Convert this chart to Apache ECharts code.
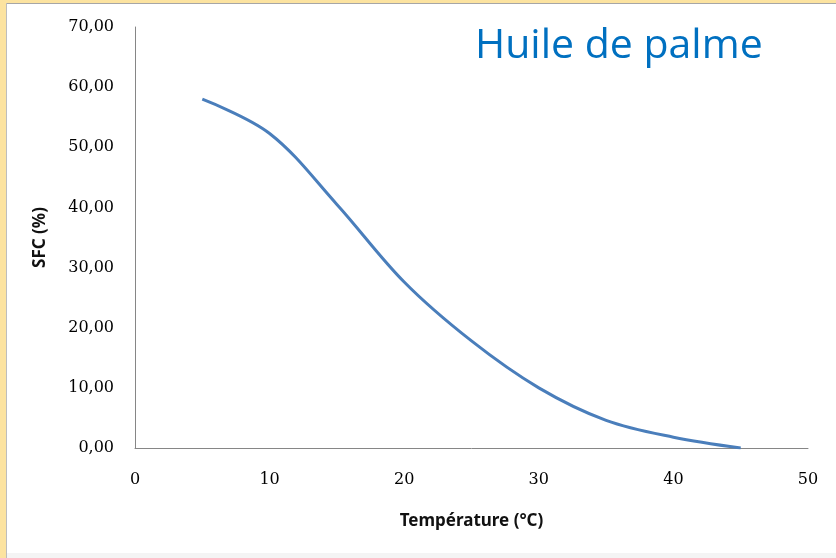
<!DOCTYPE html>
<html>
<head>
<meta charset="utf-8">
<script src="https://cdn.jsdelivr.net/npm/echarts@6/dist/echarts.min.js"></script>
<style>
    html, body { margin: 0; padding: 0; background: #fff; }
    #chart { width: 836px; height: 558px; }
</style>
</head>
<body>
<div id="chart"></div>
<script>
// données
var temperatures = [5, 10, 15, 20, 25, 30, 35, 40, 45];
var sfcValues = [58.0, 52.3, 40.5, 27.6, 17.8, 10.0, 4.6, 1.8, 0.0];
var xTicks = [0, 10, 20, 30, 40, 50];
var yTicks = [0, 10, 20, 30, 40, 50, 60, 70];

var points = temperatures.map(function(t, i) { return [t, sfcValues[i]]; });

var myChart = echarts.init(document.getElementById('chart'));

var option = {
    backgroundColor: '#ffffff',
    animation: false,
    title: {
        text: 'Huile de palme',
        left: 470,
        top: 21,
        textStyle: {
            color: '#0070C0',
            fontFamily: 'Open Sans',
            fontWeight: 'normal',
            fontSize: 41
        }
    },
    grid: {
        left: 135,
        right: 28,
        top: 27,
        bottom: 110
    },
    graphic: [
        // cadre de la diapositive
        { type: 'rect', left: 0, top: 0, shape: { width: 836, height: 3 }, style: { fill: '#FCE3A0' }, silent: true },
        { type: 'rect', left: 0, top: 0, shape: { width: 6, height: 558 }, style: { fill: '#FCE3A0' }, silent: true },
        { type: 'rect', left: 6, top: 3, shape: { width: 830, height: 1 }, style: { fill: '#A6A6A6' }, silent: true },
        { type: 'rect', left: 6, top: 3, shape: { width: 1, height: 555 }, style: { fill: '#BDBDBD' }, silent: true },
        { type: 'rect', left: 7, top: 553, shape: { width: 829, height: 5 }, style: { fill: '#F4F4F4' }, silent: true }
    ],
    xAxis: {
        type: 'value',
        min: xTicks[0],
        max: xTicks[xTicks.length - 1],
        interval: 10,
        name: 'Température (°C)',
        nameLocation: 'middle',
        nameGap: 65,
        nameTextStyle: {
            color: '#111',
            fontFamily: 'Noto Sans',
            fontWeight: 'bold',
            fontSize: 17
        },
        axisLine: { show: true, lineStyle: { color: '#868686', width: 1 } },
        axisTick: { show: false },
        splitLine: { show: false },
        axisLabel: {
            margin: 24,
            color: '#000',
            fontFamily: 'DejaVu Serif',
            fontSize: 16
        }
    },
    yAxis: {
        type: 'value',
        min: yTicks[0],
        max: yTicks[yTicks.length - 1],
        interval: 10,
        name: 'SFC (%)',
        nameLocation: 'middle',
        nameRotate: 90,
        nameGap: 86,
        nameTextStyle: {
            color: '#111',
            fontFamily: 'Noto Sans',
            fontWeight: 'bold',
            fontSize: 17
        },
        axisLine: { show: true, lineStyle: { color: '#868686', width: 1 } },
        axisTick: { show: false },
        splitLine: { show: false },
        axisLabel: {
            margin: 21,
            color: '#000',
            fontFamily: 'DejaVu Serif',
            fontSize: 16,
            formatter: function(v) {
                return v.toFixed(2).replace('.', ',');
            }
        }
    },
    series: [{
        type: 'line',
        data: points,
        smooth: 0.35,
        symbol: 'none',
        lineStyle: { color: '#4A7EBB', width: 3 }
    }]
};

myChart.setOption(option);
</script>
</body>
</html>
